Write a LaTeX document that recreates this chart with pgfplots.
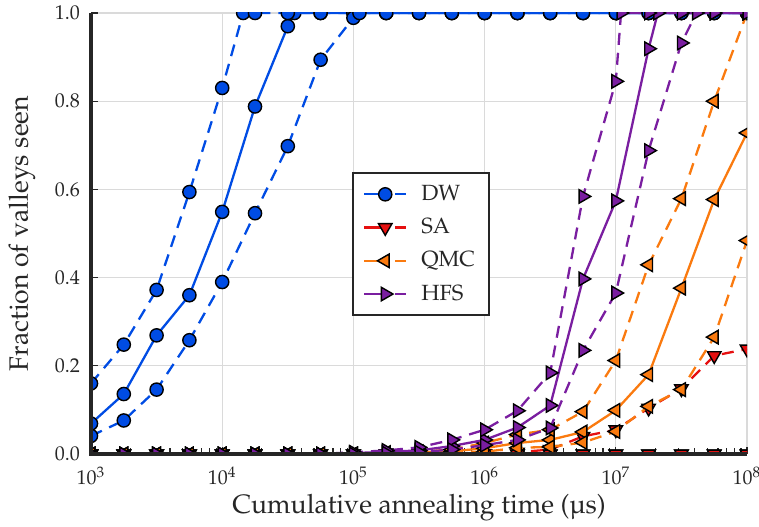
\documentclass[border=0pt]{standalone}
\usepackage[T1]{fontenc}
\usepackage{mathpazo}
\usepackage{textcomp}
\usepackage{pgfplots}
\pgfplotsset{compat=1.18}
\definecolor{cDW}{RGB}{0,76,228}
\definecolor{cSA}{RGB}{230,16,16}
\definecolor{cQMC}{RGB}{250,122,15}
\definecolor{cHFS}{RGB}{122,30,160}
\definecolor{txt}{RGB}{38,38,38}
\definecolor{grd}{RGB}{218,218,218}
\pgfplotsset{
  mylegimg/.style={legend image code/.code={
    \draw[solid,mark=none] (0pt,0pt) -- (10.5pt,0pt);
    \draw[solid,mark=none] (15.5pt,0pt) -- (21pt,0pt);
    \draw[only marks,solid] plot coordinates {(10.5pt,0pt)};
    \path (26pt,0pt);
  }},
  dw/.style={color=cDW, line width=1.15pt, mark=*, mark size=3.3pt, mark options={solid, fill=cDW, draw=black, line width=0.7pt}},
  sa/.style={color=cSA, line width=1.15pt, mark=triangle*, mark size=3.9pt, mark options={solid, fill=cSA, draw=black, line width=0.7pt, rotate=180}},
  qmc/.style={color=cQMC, line width=1.15pt, mark=triangle*, mark size=3.9pt, mark options={solid, fill=cQMC, draw=black, line width=0.7pt, rotate=90}},
  hfs/.style={color=cHFS, line width=1.15pt, mark=triangle*, mark size=3.9pt, mark options={solid, fill=cHFS, draw=black, line width=0.7pt, rotate=-90}},
  dsh/.style={dash pattern=on 6pt off 4pt},
}
\begin{document}
\begin{tikzpicture}
\begin{axis}[
  scale only axis, width=328pt, height=220.5pt,
  xmode=log, xmin=1e3, xmax=1e8, ymin=0, ymax=1,
  ytick={0,0.2,0.4,0.6,0.8,1.0},
  clip marker paths=true,
  axis lines*=left, axis line style={draw=none},
  tick align=inside,
  major tick length=3.5pt, minor tick length=3pt,
  tick style={txt, line width=0.6pt},
  grid=major, major grid style={grd, line width=0.6pt},
  every tick label/.append style={txt, font=\fontsize{10}{12}\selectfont},
  xticklabel style={yshift=-3pt},
  yticklabel style={xshift=-2pt, /pgf/number format/.cd, fixed, fixed zerofill, precision=1},
  every axis x label/.style={at={(axis description cs:0.5,0)}, anchor=center, yshift=-27pt, txt, font=\fontsize{13.3}{15}\selectfont},
  every axis y label/.style={at={(axis description cs:0,0.5)}, xshift=-34.5pt, anchor=center, rotate=90, txt, font=\fontsize{13.3}{15}\selectfont},
  xlabel={Cumulative annealing time (\textmu s)},
  ylabel={Fraction of valleys seen},
  legend cell align=left,
  legend style={at={(axis description cs:0.398,0.639)}, anchor=north west, draw=txt, line width=1pt, fill=white, font=\fontsize{11}{13}\selectfont, text=txt, inner xsep=5pt, inner ysep=4pt, row sep=3.5pt},
]
% DW
\addplot[dw, mylegimg] coordinates {(1000,0.069)(1778,0.136)(3162,0.269)(5623,0.36)(10000,0.549)(17783,0.788)(31623,0.97)(35481,1)(56234,1)(100000,1)(177828,1)(316228,1)(562341,1)(1000000,1)(1778279,1)(3162278,1)(5623413,1)(10000000,1)(17782794,1)(31622777,1)(56234133,1)(100000000,1)};
\addlegendentry{DW}
\addplot[dw, dsh, forget plot] coordinates {(1000,0.16)(1778,0.248)(3162,0.372)(5623,0.594)(10000,0.83)(14454,1)(17783,1)(31623,1)(56234,1)(100000,1)(177828,1)(316228,1)(562341,1)(1000000,1)(1778279,1)(3162278,1)(5623413,1)(10000000,1)(17782794,1)(31622777,1)(56234133,1)(100000000,1)};
\addplot[dw, dsh, forget plot] coordinates {(1000,0.041)(1778,0.076)(3162,0.146)(5623,0.258)(10000,0.39)(17783,0.546)(31623,0.698)(56234,0.894)(100000,0.989)(111200,1)(177828,1)(316228,1)(562341,1)(1000000,1)(1778279,1)(3162278,1)(5623413,1)(10000000,1)(17782794,1)(31622777,1)(56234133,1)(100000000,1)};
% SA
\addplot[sa, mylegimg] coordinates {(1000,0)(1778,0)(3162,0)(5623,0)(10000,0)(17783,0)(31623,0)(56234,0)(100000,0)(177828,0)(316228,0)(562341,0)(1000000,0)(1778279,0)(3162278,0)(5623413,0)(10000000,0)(17782794,0)(31622777,0)(56234133,0)(100000000,0)};
\addlegendentry{SA}
\addplot[sa, dsh, forget plot] coordinates {(1000,0)(1778,0)(3162,0)(5623,0)(10000,0)(17783,0)(31623,0)(56234,0)(100000,0)(177828,0)(316228,0)(562341,0)(1000000,0)(1778279,0.004)(3162278,0.01)(5623413,0.04)(10000000,0.055)(17782794,0.104)(31622777,0.148)(56234133,0.223)(100000000,0.238)};
\addplot[sa, dsh, forget plot] coordinates {(1000,0)(1778,0)(3162,0)(5623,0)(10000,0)(17783,0)(31623,0)(56234,0)(100000,0)(177828,0)(316228,0)(562341,0)(1000000,0)(1778279,0)(3162278,0)(5623413,0)(10000000,0)(17782794,0)(31622777,0)(56234133,0)(100000000,0)};
% QMC
\addplot[qmc, mylegimg] coordinates {(1000,0)(1778,0)(3162,0)(5623,0)(10000,0)(17783,0)(31623,0)(56234,0)(100000,0)(177828,0.002)(316228,0.004)(562341,0.006)(1000000,0.013)(1778279,0.025)(3162278,0.032)(5623413,0.05)(10000000,0.099)(17782794,0.18)(31622777,0.376)(56234133,0.577)(100000000,0.728)};
\addlegendentry{QMC\hspace{4pt}}
\addplot[qmc, dsh, forget plot] coordinates {(1000,0)(1778,0)(3162,0)(5623,0)(10000,0)(17783,0)(31623,0)(56234,0)(100000,0)(177828,0.003)(316228,0.005)(562341,0.01)(1000000,0.025)(1778279,0.044)(3162278,0.055)(5623413,0.096)(10000000,0.212)(17782794,0.429)(31622777,0.579)(56234133,0.8)(100000000,1)};
\addplot[qmc, dsh, forget plot] coordinates {(1000,0)(1778,0)(3162,0)(5623,0)(10000,0)(17783,0)(31623,0)(56234,0)(100000,0)(177828,0)(316228,0.001)(562341,0.003)(1000000,0.005)(1778279,0.014)(3162278,0.016)(5623413,0.026)(10000000,0.051)(17782794,0.108)(31622777,0.146)(56234133,0.265)(100000000,0.484)};
% HFS
\addplot[hfs, mylegimg] coordinates {(1000,0)(1778,0)(3162,0)(5623,0)(10000,0)(17783,0)(31623,0)(56234,0)(100000,0.002)(177828,0.005)(316228,0.008)(562341,0.018)(1000000,0.032)(1778279,0.06)(3162278,0.11)(5623413,0.397)(10000000,0.574)(17782794,0.919)(20893000,1)(31622777,1)(56234133,1)(100000000,1)};
\addlegendentry{HFS}
\addplot[hfs, dsh, forget plot] coordinates {(1000,0)(1778,0)(3162,0)(5623,0)(10000,0)(17783,0)(31623,0)(56234,0)(100000,0.004)(177828,0.008)(316228,0.015)(562341,0.032)(1000000,0.055)(1778279,0.098)(3162278,0.184)(5623413,0.584)(10000000,0.845)(10965000,1)(17782794,1)(31622777,1)(56234133,1)(100000000,1)};
\addplot[hfs, dsh, forget plot] coordinates {(1000,0)(1778,0)(3162,0)(5623,0)(10000,0)(17783,0)(31623,0)(56234,0)(100000,0)(177828,0.002)(316228,0.004)(562341,0.01)(1000000,0.02)(1778279,0.032)(3162278,0.059)(5623413,0.235)(10000000,0.365)(17782794,0.688)(31622777,0.932)(41210000,1)(56234133,1)(100000000,1)};
\end{axis}
\draw[txt, line width=1.6pt] (current axis.north west) -- (current axis.south west) -- (current axis.south east);
\pgfresetboundingbox
\path ([xshift=-45.5pt,yshift=-36.5pt]current axis.south west) rectangle ([xshift=6pt,yshift=6.5pt]current axis.north east);
\end{tikzpicture}
\end{document}
